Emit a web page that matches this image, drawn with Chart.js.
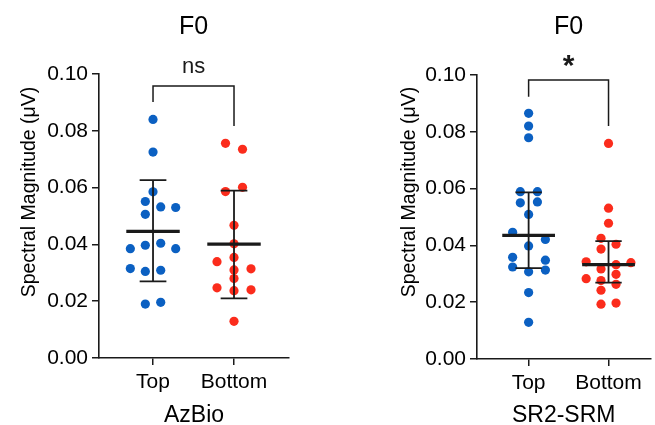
<!DOCTYPE html>
<html><head><meta charset="utf-8">
<script src="https://cdn.jsdelivr.net/npm/chart.js@4.4.1/dist/chart.umd.min.js"></script>
<style>
html,body{margin:0;padding:0;background:#fff;}
#wrap{position:relative;width:655px;height:425px;overflow:hidden;}
canvas{position:absolute;left:0;top:0;}
</style></head><body>
<div id="wrap"><canvas id="c1" width="655" height="425"></canvas><canvas id="c2" width="655" height="425"></canvas></div>
<script>
// ---------- data ----------
const categories = ['Top', 'Bottom'];
const yTickValues = [0, 0.02, 0.04, 0.06, 0.08, 0.10];

// AzBio panel
const azTop = [0.0840, 0.0725, 0.0585, 0.0551, 0.0532, 0.0530, 0.0506, 0.0385, 0.0397, 0.0404, 0.0385, 0.0315, 0.0305, 0.0309, 0.0190, 0.0196];
const azTopJitter = [0, 0, 0, -0.095, 0.095, 0.28, -0.095, -0.28, -0.095, 0.095, 0.28, -0.28, -0.095, 0.095, -0.095, 0.095];
const azBottom = [0.0756, 0.0735, 0.0586, 0.0601, 0.0467, 0.0402, 0.0339, 0.0354, 0.0314, 0.0310, 0.0280, 0.0247, 0.0237, 0.0240, 0.0129];
const azBottomJitter = [-0.105, 0.105, -0.105, 0.105, 0, 0, -0.21, 0, 0.21, 0, 0, -0.21, 0, 0.21, 0];
const azMean = [0.0446, 0.0401];
const azLow = [0.0270, 0.0210];
const azHigh = [0.0626, 0.0589];

// SR2-SRM panel
const srTop = [0.0865, 0.0820, 0.0779, 0.0589, 0.0589, 0.0550, 0.0553, 0.0509, 0.0446, 0.0421, 0.0398, 0.0358, 0.0348, 0.0324, 0.0307, 0.0313, 0.0234, 0.0129];
const srTopJitter = [0, 0, 0, -0.104, 0.11, -0.104, 0.11, 0, -0.2, 0.21, 0, -0.2, 0.21, -0.2, 0, 0.21, 0, 0];
const srBottom = [0.0759, 0.0531, 0.0478, 0.0425, 0.0404, 0.0387, 0.0342, 0.0332, 0.0339, 0.0317, 0.0283, 0.0298, 0.0276, 0.0263, 0.0242, 0.0193, 0.0197];
const srBottomJitter = [0, 0, 0, -0.094, 0.094, -0.094, -0.28, 0.094, 0.28, -0.094, -0.28, 0.094, -0.094, 0.094, -0.094, -0.094, 0.094];
const srMean = [0.0435, 0.0332];
const srLow = [0.0320, 0.0269];
const srHigh = [0.0587, 0.0415];

// ---------- style ----------
const FONT = "'Liberation Sans', Arial, Helvetica, sans-serif";
const BLUE = '#0b60c2';
const RED = '#fb2c1c';
const INK = '#1a1a1a';

function pts(vals, jit, idx) { return vals.map((v, i) => ({ x: idx + jit[i], y: v })); }

function extrasPlugin(o) {
  return {
    id: 'extras',
    afterDatasetsDraw(chart) {
      const { ctx } = chart; const x = chart.scales.x, y = chart.scales.y;
      ctx.save();
      ctx.strokeStyle = INK; ctx.lineCap = 'butt';
      o.mean.forEach((m, i) => {
        const cx = x.getPixelForValue(i);
        const mw = x.getPixelForValue(i + 0.33) - cx;
        const cw = x.getPixelForValue(i + 0.165) - cx;
        const yl = y.getPixelForValue(o.low[i]), yh = y.getPixelForValue(o.high[i]), ym = y.getPixelForValue(m);
        ctx.lineWidth = 1.8;
        ctx.beginPath();
        ctx.moveTo(cx, yl); ctx.lineTo(cx, yh);
        ctx.moveTo(cx - cw, yl); ctx.lineTo(cx + cw, yl);
        ctx.moveTo(cx - cw, yh); ctx.lineTo(cx + cw, yh);
        ctx.stroke();
        ctx.lineWidth = 3.2;
        ctx.beginPath(); ctx.moveTo(cx - mw, ym); ctx.lineTo(cx + mw, ym); ctx.stroke();
      });
      // significance bracket
      const b = o.bracket;
      const x0 = x.getPixelForValue(0), x1 = x.getPixelForValue(1);
      ctx.lineWidth = 1.5;
      ctx.beginPath();
      ctx.moveTo(x0, y.getPixelForValue(b.leftEnd));
      ctx.lineTo(x0, y.getPixelForValue(b.top));
      ctx.lineTo(x1, y.getPixelForValue(b.top));
      ctx.lineTo(x1, y.getPixelForValue(b.rightEnd));
      ctx.stroke();
      ctx.fillStyle = INK; ctx.textAlign = 'center'; ctx.textBaseline = 'middle';
      ctx.font = b.font;
      ctx.fillText(b.label, (x0 + x1) / 2, y.getPixelForValue(b.labelY));
      // panel title
      ctx.font = "25px " + FONT;
      ctx.fillStyle = '#000';
      ctx.fillText(o.title, (x0 + x1) / 2, 27);
      // y title
      ctx.save();
      ctx.translate(o.yTitleX, o.yTitleY);
      ctx.rotate(-Math.PI / 2);
      ctx.font = "19.5px " + FONT;
      ctx.fillText('Spectral Magnitude (\u03bcV)', 0, 0);
      ctx.restore();
      ctx.restore();
    }
  };
}

function makeChart(id, o) {
  return new Chart(document.getElementById(id), {
    type: 'scatter',
    data: {
      datasets: [
        { data: pts(o.top, o.topJ, 0), backgroundColor: BLUE, borderColor: BLUE, borderWidth: 0, pointRadius: 4.6, pointHoverRadius: 4.6 },
        { data: pts(o.bottom, o.bottomJ, 1), backgroundColor: RED, borderColor: RED, borderWidth: 0, pointRadius: 4.6, pointHoverRadius: 4.6 }
      ]
    },
    options: {
      responsive: false, animation: false, devicePixelRatio: 1,
      events: [],
      layout: { padding: o.padding },
      plugins: { legend: { display: false }, tooltip: { enabled: false }, title: { display: false } },
      scales: {
        x: {
          type: 'linear', min: o.xmin, max: o.xmax,
          afterBuildTicks: (s) => { s.ticks = categories.map((c, i) => ({ value: i })); },
          afterFit: (s) => { s.height = o.xH; },
          ticks: { callback: (v) => categories[v], color: '#000', font: { family: FONT, size: 21 }, padding: 5, autoSkip: false, maxRotation: 0 },
          grid: { drawOnChartArea: false, drawTicks: true, tickLength: 7, color: INK, lineWidth: 1.5 },
          border: { display: true, color: INK, width: 1.6 },
          title: { display: true, text: o.xTitle, color: '#000', font: { family: FONT, size: 23, lineHeight: 0.8 }, padding: { top: 0, bottom: 0.5 } }
        },
        y: {
          type: 'linear', min: 0, max: 0.10,
          afterBuildTicks: (s) => { s.ticks = yTickValues.map(v => ({ value: v })); },
          afterFit: (s) => { s.width = 99; },
          ticks: { callback: (v) => v.toFixed(2), color: '#000', font: { family: FONT, size: 21 }, padding: 4 },
          grid: { drawOnChartArea: false, drawTicks: true, tickLength: 7, color: INK, lineWidth: 1.5 },
          border: { display: true, color: INK, width: 1.6 }
        }
      }
    },
    plugins: [extrasPlugin(o)]
  });
}

makeChart('c1', {
  top: azTop, topJ: azTopJitter, bottom: azBottom, bottomJ: azBottomJitter,
  mean: azMean, low: azLow, high: azHigh,
  padding: { left: 0, top: 74, right: 366, bottom: 0 }, xH: 67,
  xmin: -0.667, xmax: 1.679, xTitle: 'AzBio', title: 'F0',
  yTitleX: 30, yTitleY: 192,
  bracket: { top: 0.0958, leftEnd: 0.0901, rightEnd: 0.0817, label: 'ns', labelY: 0.1025, font: "22px " + FONT }
});
makeChart('c2', {
  top: srTop, topJ: srTopJitter, bottom: srBottom, bottomJ: srBottomJitter,
  mean: srMean, low: srLow, high: srHigh,
  padding: { left: 378, top: 75, right: 0, bottom: 0 }, xH: 66,
  xmin: -0.646, xmax: 1.524, xTitle: 'SR2-SRM', title: 'F0',
  yTitleX: 410, yTitleY: 192,
  bracket: { top: 0.0982, leftEnd: 0.0923, rightEnd: 0.0820, label: '*', labelY: 0.1030, font: "bold 30px " + FONT }
});
</script>
</body></html>
